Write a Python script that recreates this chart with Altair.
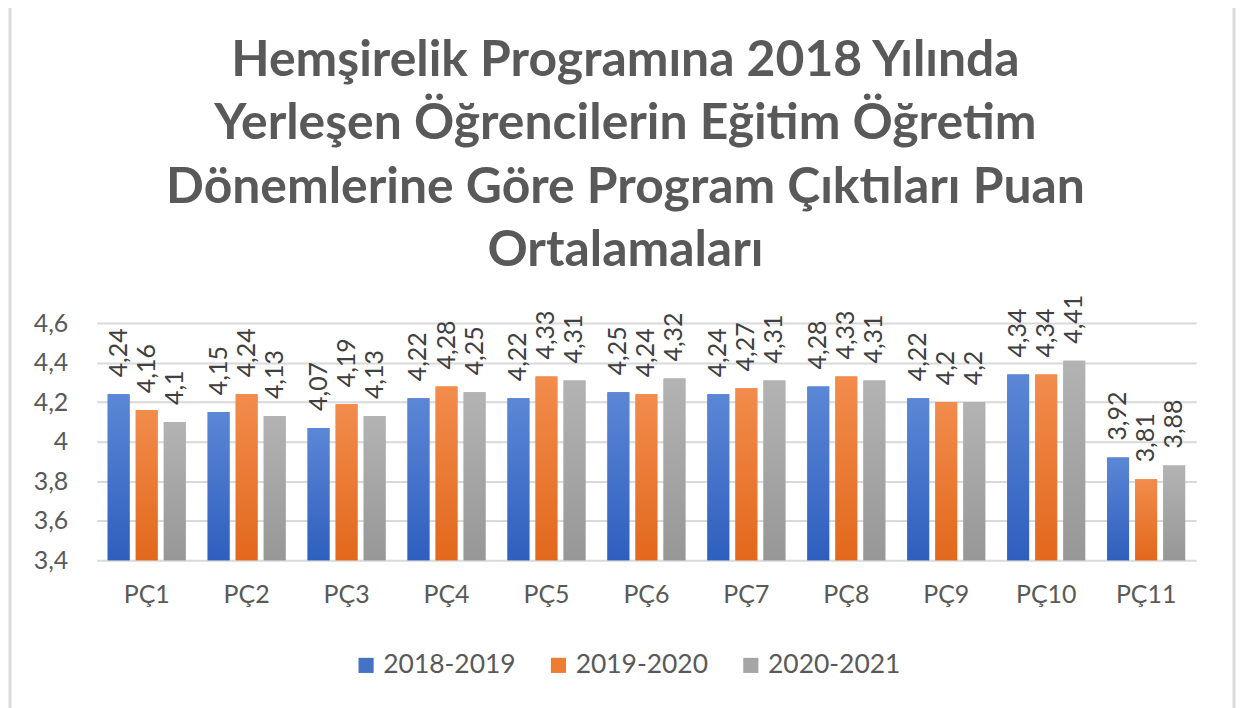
import altair as alt
import pandas as pd

categories = ["PÇ1", "PÇ2", "PÇ3", "PÇ4", "PÇ5", "PÇ6", "PÇ7", "PÇ8", "PÇ9", "PÇ10", "PÇ11"]
series = ["2018-2019", "2019-2020", "2020-2021"]
v2018 = [4.24, 4.15, 4.07, 4.22, 4.22, 4.25, 4.24, 4.28, 4.22, 4.34, 3.92]
v2019 = [4.16, 4.24, 4.19, 4.28, 4.33, 4.24, 4.27, 4.33, 4.2, 4.34, 3.81]
v2020 = [4.1, 4.13, 4.13, 4.25, 4.31, 4.32, 4.31, 4.31, 4.2, 4.41, 3.88]
colors = ["#4472C4", "#ED7D31", "#A5A5A5"]
grad_top = ["#5B87D6", "#F28C4C", "#B3B3B3"]
grad_bottom = ["#2F5FBE", "#E2681C", "#979797"]
yticks = [3.4, 3.6, 3.8, 4.0, 4.2, 4.4, 4.6]
title_lines = [
    "Hemşirelik Programına 2018 Yılında",
    "Yerleşen Öğrencilerin Eğitim Öğretim",
    "Dönemlerine Göre Program Çıktıları Puan",
    "Ortalamaları",
]

rows = []
for s, vals in zip(series, [v2018, v2019, v2020]):
    for c, v in zip(categories, vals):
        rows.append({"PC": c, "Donem": s, "Puan": v})
df = pd.DataFrame(rows)

FONT = "Lato"
TXT = "#595959"

x = alt.X("PC:N", sort=categories, title=None,
          scale=alt.Scale(paddingInner=0.22, paddingOuter=0.11),
          axis=alt.Axis(labelAngle=0, ticks=False, domain=False, labelPadding=22,
                        labelFontSize=25, labelColor=TXT, labelFont=FONT))
y = alt.Y("Puan:Q", title=None,
          scale=alt.Scale(domain=[3.4, 4.6], zero=False, nice=False),
          axis=alt.Axis(values=yticks, tickCount=7, ticks=False, domain=False, labelOverlap=False,
                        labelPadding=29, labelFontSize=25, labelColor=TXT, labelFont=FONT,
                        labelExpr="replace(format(datum.value, '~g'), '.', ',')",
                        gridColor="#D9D9D9", gridWidth=2))
xo = alt.XOffset("Donem:N", sort=series, scale=alt.Scale(paddingInner=0.22))

base_bars = alt.Chart(df).mark_bar().encode(
    x=x, y=y, y2=alt.datum(3.4), xOffset=xo,
    color=alt.Color("Donem:N", sort=series, title=None,
                    scale=alt.Scale(domain=series, range=colors),
                    legend=alt.Legend(orient="none", legendX=257, legendY=330, direction="horizontal",
                                      symbolType="square", symbolSize=230, symbolStrokeWidth=0,
                                      labelFontSize=26.5, labelColor=TXT, labelFont=FONT,
                                      columnPadding=29, labelOffset=4)),
)

grad_layers = []
for s, top, bot in zip(series, grad_top, grad_bottom):
    grad_layers.append(
        alt.Chart(df).transform_filter(alt.datum.Donem == s).mark_bar(
            fill=alt.LinearGradient(gradient="linear", x1=0, y1=0, x2=0, y2=1,
                                    stops=[alt.GradientStop(color=top, offset=0),
                                           alt.GradientStop(color=bot, offset=1)])
        ).encode(x=x, y=y, y2=alt.datum(3.4), xOffset=xo)
    )

labels = alt.Chart(df).transform_calculate(
    lab="replace(toString(datum.Puan), '.', ',')"
).mark_text(angle=270, align="left", baseline="middle", dx=17, fontSize=25,
            font=FONT, color="#404040").encode(
    x=x, y=y, xOffset=xo, text="lab:N"
)

# decorative chart frame (left and right edges)
one = pd.DataFrame({"k": [0]})
frame_left = alt.Chart(one).mark_rule(color="#DADADA", strokeWidth=3).encode(
    x=alt.value(-87), y=alt.value(-320), y2=alt.value(420))
frame_right = alt.Chart(one).mark_rule(color="#DADADA", strokeWidth=3).encode(
    x=alt.value(1141), y=alt.value(-320), y2=alt.value(420))

chart = alt.layer(frame_left, frame_right, base_bars, *grad_layers, labels).properties(
    width=1103, height=238,
    title=alt.TitleParams(title_lines, anchor="middle", frame="group", fontSize=50,
                          font=FONT, fontWeight="bold", color=TXT, lineHeight=63.5,
                          offset=-274, dx=-21),
    autosize=alt.AutoSizeParams(type="none"),
    padding={"left": 89, "top": 315, "right": 40, "bottom": 150},
).configure_view(stroke=None)

chart.save("out.html", embed_options={"renderer": "svg", "actions": False})
